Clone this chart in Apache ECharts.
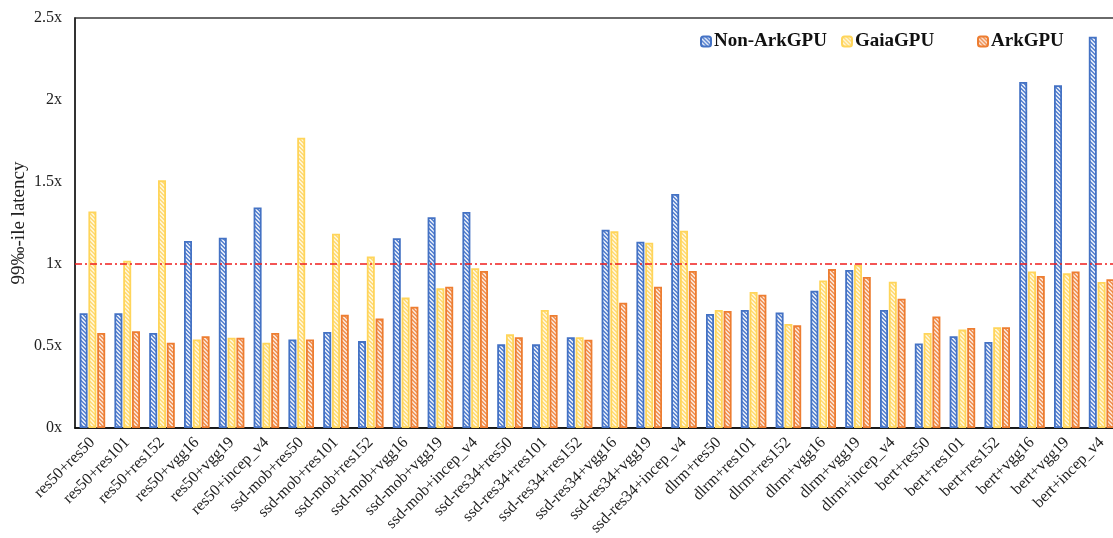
<!DOCTYPE html>
<html>
<head>
<meta charset="utf-8">
<script src="https://cdn.jsdelivr.net/npm/echarts@6/dist/echarts.min.js"></script>
<style>
  html, body { margin: 0; padding: 0; background: #fff; }
  #chart { width: 1113px; height: 538px; }
</style>
</head>
<body>
<div id="chart"></div>
<script>
// Workload pairs (co-located models)
const categories = [
  'res50+res50', 'res50+res101', 'res50+res152', 'res50+vgg16', 'res50+vgg19', 'res50+incep_v4',
  'ssd-mob+res50', 'ssd-mob+res101', 'ssd-mob+res152', 'ssd-mob+vgg16', 'ssd-mob+vgg19', 'ssd-mob+incep_v4',
  'ssd-res34+res50', 'ssd-res34+res101', 'ssd-res34+res152', 'ssd-res34+vgg16', 'ssd-res34+vgg19', 'ssd-res34+incep_v4',
  'dlrm+res50', 'dlrm+res101', 'dlrm+res152', 'dlrm+vgg16', 'dlrm+vgg19', 'dlrm+incep_v4',
  'bert+res50', 'bert+res101', 'bert+res152', 'bert+vgg16', 'bert+vgg19', 'bert+incep_v4'
];

// Normalized 99th-percentile latency per system
const nonArkGPU = [
  0.70, 0.70, 0.58, 1.14, 1.16, 1.345,
  0.54, 0.585, 0.53, 1.157, 1.285, 1.317,
  0.51, 0.51, 0.553, 1.209, 1.136, 1.427,
  0.695, 0.72, 0.705, 0.837, 0.963, 0.72,
  0.516, 0.56, 0.524, 2.11, 2.09, 2.386
];
const gaiaGPU = [
  1.32, 1.02, 1.51, 0.54, 0.55, 0.52,
  1.77, 1.185, 1.045, 0.795, 0.852, 0.974,
  0.571, 0.72, 0.553, 1.199, 1.13, 1.203,
  0.72, 0.829, 0.634, 0.90, 0.996, 0.892,
  0.58, 0.60, 0.614, 0.955, 0.943, 0.89
];
const arkGPU = [
  0.58, 0.59, 0.52, 0.56, 0.55, 0.58,
  0.54, 0.69, 0.667, 0.74, 0.862, 0.957,
  0.553, 0.689, 0.538, 0.764, 0.862, 0.957,
  0.713, 0.813, 0.626, 0.969, 0.921, 0.788,
  0.68, 0.61, 0.614, 0.927, 0.955, 0.907
];

const yTicks = [0, 0.5, 1, 1.5, 2, 2.5];
const yAxisTitle = '99‰-ile latency';
const baseline = 1;

// Diagonal hatch fill used inside each bar
function hatch(bg, stripe) {
  const size = 4;
  const c = document.createElement('canvas');
  c.width = size; c.height = size;
  const ctx = c.getContext('2d');
  ctx.fillStyle = bg;
  ctx.fillRect(0, 0, size, size);
  ctx.fillStyle = stripe;
  for (let y = 0; y < size; y++) {
    for (let x = 0; x < size; x++) {
      const d = ((x - y) % size + size) % size;
      if (d === 0 || d === 1) ctx.fillRect(x, y, 1, 1);
    }
  }
  return { image: c, repeat: 'repeat' };
}

const SERIF = '"Liberation Serif", "DejaVu Serif", serif';

const styles = {
  'Non-ArkGPU': { border: '#4472C4', fill: hatch('#dfe8f7', '#6088d2') },
  'GaiaGPU':    { border: '#FFD55A', fill: hatch('#fff5d4', '#ffdc7c') },
  'ArkGPU':     { border: '#ED7D31', fill: hatch('#fbe1d0', '#f0965c') }
};

function barSeries(name, data, extra) {
  return Object.assign({
    name: name,
    type: 'bar',
    data: data,
    barWidth: 8,
    barGap: '10%',
    itemStyle: {
      color: styles[name].fill,
      borderColor: styles[name].border,
      borderWidth: 1.8
    },
    emphasis: { disabled: true }
  }, extra || {});
}

function legendAt(left, name) {
  return {
    left: left,
    top: 27,
    data: [name],
    itemWidth: 10,
    itemHeight: 10,
    itemGap: 4,
    textStyle: { fontFamily: SERIF, fontSize: 19, fontWeight: 'bold', color: '#111', padding: [0, 0, 0, -2] }
  };
}

const GRID = { left: 75, right: -6, top: 18, bottom: 110 };

const chart = echarts.init(document.getElementById('chart'), null, { renderer: 'canvas' });
chart.setOption({
  animation: false,
  backgroundColor: '#fff',
  legend: [
    legendAt(695, 'Non-ArkGPU'),
    legendAt(836, 'GaiaGPU'),
    legendAt(972, 'ArkGPU')
  ],
  grid: Object.assign({
    outerBoundsMode: 'none',
    containLabel: false,
    show: true,
    borderColor: '#3a3a3a',
    borderWidth: 1.5
  }, GRID),
  // Vertical axis title, centred on the plot height
  graphic: [{
    type: 'text',
    x: 19,
    y: GRID.top + (538 - GRID.top - GRID.bottom) / 2,
    rotation: Math.PI / 2,
    style: {
      text: yAxisTitle,
      fontFamily: SERIF,
      fontSize: 19,
      fill: '#222',
      align: 'center',
      verticalAlign: 'middle'
    }
  }],
  xAxis: {
    type: 'category',
    data: categories,
    axisLine: { lineStyle: { color: '#000', width: 1.5 } },
    axisTick: { show: false },
    axisLabel: {
      rotate: 45,
      interval: 0,
      margin: 12,
      fontFamily: SERIF,
      fontSize: 16,
      color: '#222'
    }
  },
  yAxis: {
    type: 'value',
    min: yTicks[0],
    max: yTicks[yTicks.length - 1],
    interval: 0.5,
    axisLine: { show: true, lineStyle: { color: '#222', width: 1.5 } },
    axisTick: { show: false },
    splitLine: { show: false },
    axisLabel: {
      margin: 13,
      fontFamily: SERIF,
      fontSize: 16,
      color: '#222',
      formatter: v => v + 'x'
    }
  },
  series: [
    barSeries('Non-ArkGPU', nonArkGPU, {
      markLine: {
        silent: true,
        symbol: 'none',
        label: { show: false },
        lineStyle: { color: '#f01e1e', width: 1.5, type: [7, 3, 2, 3] },
        data: [{ yAxis: baseline }]
      }
    }),
    barSeries('GaiaGPU', gaiaGPU),
    barSeries('ArkGPU', arkGPU)
  ]
});
</script>
</body>
</html>
